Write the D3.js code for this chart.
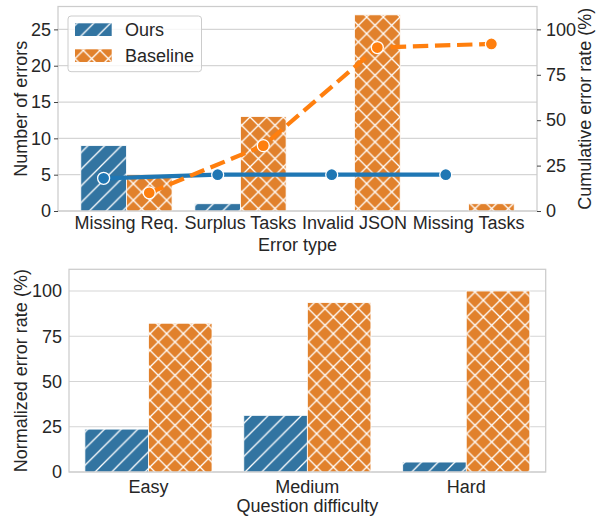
<!DOCTYPE html>
<html>
<head>
<meta charset="utf-8">
<script src="https://cdn.jsdelivr.net/npm/d3@7"></script>
<style>
  body { margin: 0; background: #fff; }
  text { font-family: "Liberation Sans", Arial, sans-serif; fill: #262626; }
</style>
</head>
<body>
<svg id="chart" width="601" height="517"></svg>
<script>
// data
const errorTypes = ["Missing Req.", "Surplus Tasks", "Invalid JSON", "Missing Tasks"];
const oursErrors = [9, 1, 0, 0];
const baselineErrors = [5, 13, 27, 1];
const oursCumulative = [18, 20, 20, 20];
const baselineCumulative = [10, 36, 90, 92];
const errorTicks = [0, 5, 10, 15, 20, 25];
const rateTicks = [0, 25, 50, 75, 100];

const difficulties = ["Easy", "Medium", "Hard"];
const oursRate = [23.7, 31.3, 5.5];
const baselineRate = [82.2, 93.6, 100];

const methods = ["Ours", "Baseline"];
const barColor = { Ours: "#3274a1", Baseline: "#e1812c" };
const lineColor = { Ours: "#1f77b4", Baseline: "#ff7f0e" };
const hatchId = { Ours: "hatch-slash", Baseline: "hatch-cross" };

const svg = d3.select("#chart");
const FONT = 18;

// hatch patterns (6 lines per 100px like matplotlib at dpi 100)
const s = 100 / 6;
const defs = svg.append("defs");
function makeHatch(id, cross) {
    let d = `M0,${s} L${s},0 M${-s / 2},${s / 2} L${s / 2},${-s / 2} M${s / 2},${s * 1.5} L${s * 1.5},${s / 2}`;
    if (cross) {
        d += ` M0,0 L${s},${s} M${-s / 2},${s / 2} L${s / 2},${s * 1.5} M${s / 2},${-s / 2} L${s * 1.5},${s / 2}`;
    }
    defs.append("pattern")
        .attr("id", id)
        .attr("patternUnits", "userSpaceOnUse")
        .attr("width", s)
        .attr("height", s)
        .attr("y", 517 % s)
        .append("path")
        .attr("d", d)
        .attr("stroke", "#fff")
        .attr("stroke-width", 1.3)
        .attr("fill", "none");
}
makeHatch("hatch-slash", false);
makeHatch("hatch-cross", true);

function drawBars(g, rows, x, xSub, y) {
    rows.forEach(r => {
        if (r.value <= 0) return;
        const bx = x(r.cat) + xSub(r.method);
        const bw = xSub.bandwidth();
        g.append("rect")
            .attr("x", bx).attr("y", y(r.value))
            .attr("width", bw).attr("height", y(0) - y(r.value))
            .attr("fill", barColor[r.method]);
        g.append("rect")
            .attr("x", bx).attr("y", y(r.value))
            .attr("width", bw).attr("height", y(0) - y(r.value))
            .attr("fill", `url(#${hatchId[r.method]})`)
            .attr("stroke", "#fff")
            .attr("stroke-width", 0.8);
    });
}

function grid(g, ticks, y, x0, x1) {
    g.selectAll(null).data(ticks).enter().append("line")
        .attr("x1", x0).attr("x2", x1)
        .attr("y1", d => y(d)).attr("y2", d => y(d))
        .attr("stroke", "#d5d5d5")
        .attr("stroke-width", 1.2);
}

function frame(g, x0, x1, y0, y1) {
    g.append("rect")
        .attr("x", x0).attr("y", y0)
        .attr("width", x1 - x0).attr("height", y1 - y0)
        .attr("fill", "none")
        .attr("stroke", "#cccccc")
        .attr("stroke-width", 1.25);
}

function styleAxis(a) {
    a.select(".domain").remove();
    a.selectAll("text").attr("font-size", FONT).attr("font-family", null).attr("fill", "#262626");
    a.selectAll("line").attr("stroke", "#444");
}

// ---------- top chart ----------
const top1 = { left: 58, right: 537, top: 6.5, bottom: 211 };
const x1 = d3.scaleBand().domain(errorTypes).range([top1.left, top1.right]).paddingInner(0.2).paddingOuter(0.2);
const x1Sub = d3.scaleBand().domain(methods).range([0, x1.bandwidth()]);
const yErr = d3.scaleLinear().domain([0, 28.15]).range([top1.bottom, top1.top]);
const yCum = d3.scaleLinear().domain([0, 112.6]).range([top1.bottom, top1.top]);

const g1 = svg.append("g");
grid(g1, errorTicks, yErr, top1.left, top1.right);

const rows1 = [];
errorTypes.forEach((c, i) => {
    rows1.push({ cat: c, method: "Ours", value: oursErrors[i] });
    rows1.push({ cat: c, method: "Baseline", value: baselineErrors[i] });
});
drawBars(g1, rows1, x1, x1Sub, yErr);

// cumulative lines on the twin axis
const cumSeries = [
    { method: "Ours", values: oursCumulative, dash: null },
    { method: "Baseline", values: baselineCumulative, dash: "15.4,6.7" }
];
cumSeries.forEach(sr => {
    const pts = errorTypes.map((c, i) => [x1(c) + x1Sub(sr.method) + x1Sub.bandwidth() / 2, yCum(sr.values[i])]);
    g1.append("path")
        .attr("d", d3.line()(pts))
        .attr("fill", "none")
        .attr("stroke", lineColor[sr.method])
        .attr("stroke-width", 4.2)
        .attr("stroke-dasharray", sr.dash);
    g1.selectAll(null).data(pts).enter().append("circle")
        .attr("cx", d => d[0]).attr("cy", d => d[1])
        .attr("r", 6)
        .attr("fill", lineColor[sr.method])
        .attr("stroke", "#fff")
        .attr("stroke-width", 1.3);
});

frame(g1, top1.left, top1.right, top1.top, top1.bottom);

g1.append("g").attr("transform", `translate(0,${top1.bottom})`)
    .call(d3.axisBottom(x1).tickSize(0).tickPadding(5.5))
    .call(styleAxis);
g1.append("g").attr("transform", `translate(${top1.left},0)`)
    .call(d3.axisLeft(yErr).tickValues(errorTicks).tickSize(4).tickPadding(3))
    .call(styleAxis);
g1.append("g").attr("transform", `translate(${top1.right},0)`)
    .call(d3.axisRight(yCum).tickValues(rateTicks).tickSize(4).tickPadding(5))
    .call(styleAxis);

g1.append("text")
    .attr("x", (top1.left + top1.right) / 2).attr("y", 251)
    .attr("text-anchor", "middle").attr("font-size", FONT)
    .text("Error type");
g1.append("text")
    .attr("transform", `translate(27,${(top1.top + top1.bottom) / 2}) rotate(-90)`)
    .attr("text-anchor", "middle").attr("font-size", FONT)
    .text("Number of errors");
g1.append("text")
    .attr("transform", `translate(591,${(top1.top + top1.bottom) / 2}) rotate(-90)`)
    .attr("text-anchor", "middle").attr("font-size", FONT)
    .text("Cumulative error rate (%)");

// legend
const lg = g1.append("g");
lg.append("rect")
    .attr("x", 68).attr("y", 16).attr("width", 133.5).attr("height", 55.7)
    .attr("rx", 3)
    .attr("fill", "#fff").attr("fill-opacity", 0.8)
    .attr("stroke", "#cccccc").attr("stroke-width", 1);
methods.forEach((m, i) => {
    const py = 23.3 + i * 26;
    lg.append("rect").attr("x", 75).attr("y", py).attr("width", 36.7).attr("height", 12.7)
        .attr("fill", barColor[m]);
    lg.append("rect").attr("x", 75).attr("y", py).attr("width", 36.7).attr("height", 12.7)
        .attr("fill", `url(#${hatchId[m]})`);
    lg.append("text").attr("x", 125).attr("y", py + 12.7)
        .attr("font-size", FONT).text(m);
});

// ---------- bottom chart ----------
const bot = { left: 69, right: 545.7, top: 269.3, bottom: 472 };
const x2 = d3.scaleBand().domain(difficulties).range([bot.left, bot.right]).paddingInner(0.2).paddingOuter(0.1);
const x2Sub = d3.scaleBand().domain(methods).range([0, x2.bandwidth()]);
const yRate = d3.scaleLinear().domain([0, 112]).range([bot.bottom, bot.top]);

const g2 = svg.append("g");
grid(g2, rateTicks, yRate, bot.left, bot.right);

const rows2 = [];
difficulties.forEach((c, i) => {
    rows2.push({ cat: c, method: "Ours", value: oursRate[i] });
    rows2.push({ cat: c, method: "Baseline", value: baselineRate[i] });
});
drawBars(g2, rows2, x2, x2Sub, yRate);
frame(g2, bot.left, bot.right, bot.top, bot.bottom);

g2.append("g").attr("transform", `translate(0,${bot.bottom})`)
    .call(d3.axisBottom(x2).tickSize(0).tickPadding(8))
    .call(styleAxis);
g2.append("g").attr("transform", `translate(${bot.left},0)`)
    .call(d3.axisLeft(yRate).tickValues(rateTicks).tickSize(0).tickPadding(7))
    .call(styleAxis);

g2.append("text")
    .attr("x", (bot.left + bot.right) / 2).attr("y", 512)
    .attr("text-anchor", "middle").attr("font-size", FONT)
    .text("Question difficulty");
g2.append("text")
    .attr("transform", `translate(27,${(bot.top + bot.bottom) / 2}) rotate(-90)`)
    .attr("text-anchor", "middle").attr("font-size", FONT)
    .text("Normalized error rate (%)");
</script>
</body>
</html>
